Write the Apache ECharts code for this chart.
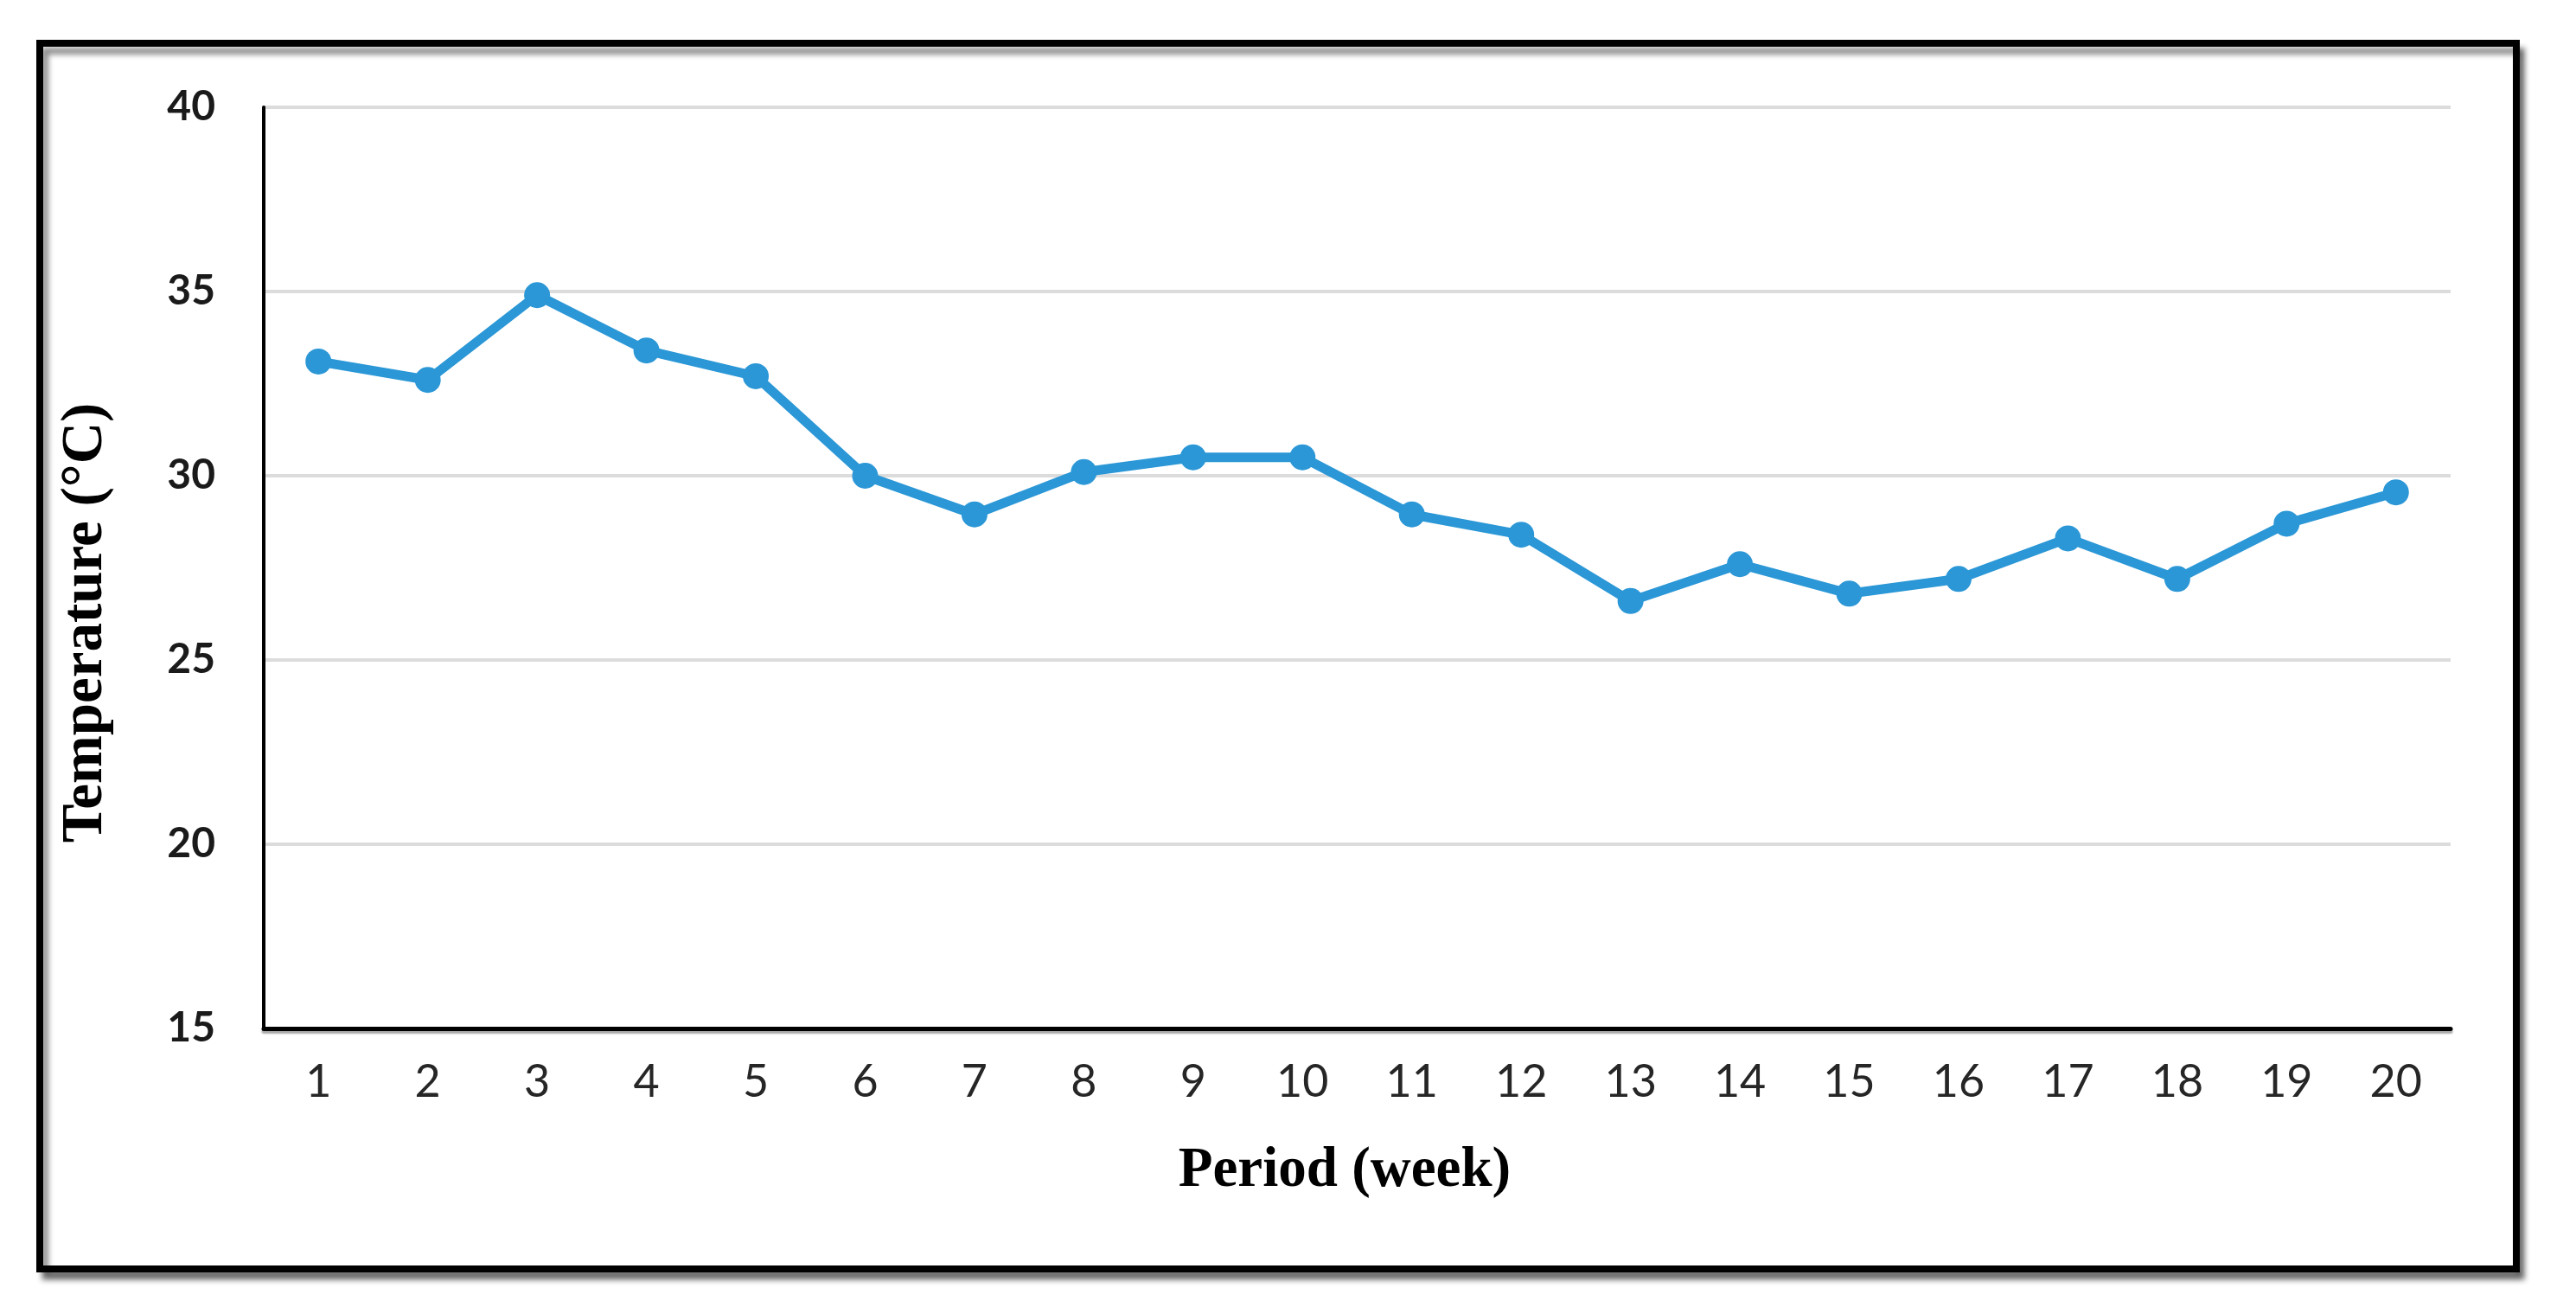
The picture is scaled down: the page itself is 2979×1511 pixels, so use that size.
<!DOCTYPE html>
<html>
<head>
<meta charset="utf-8">
<script src="https://cdn.jsdelivr.net/npm/echarts@6/dist/echarts.min.js"></script>
<style>
  html, body { margin: 0; padding: 0; background: #ffffff; }
  #chart { width: 2979px; height: 1511px; }
</style>
</head>
<body>
<div id="chart"></div>
<script>
// ---- data ----
const weeks = ['1','2','3','4','5','6','7','8','9','10','11','12','13','14','15','16','17','18','19','20'];
const temperature = [33.1, 32.6, 34.9, 33.4, 32.7, 30.0, 28.95, 30.1, 30.5, 30.5, 28.95, 28.4, 26.6, 27.6, 26.8, 27.2, 28.3, 27.2, 28.7, 29.55];
const yTicks = { min: 15, max: 40, step: 5 };
const xTitle = 'Period (week)';
const yTitle = 'Temperature (\u00B0C)';

const chart = echarts.init(document.getElementById('chart'), null, { renderer: 'canvas' });

const option = {
  backgroundColor: '#ffffff',
  animation: false,
  graphic: [
    {
      type: 'rect',
      z: -10,
      shape: { x: 46, y: 50, width: 2864, height: 1417 },
      style: {
        fill: '#ffffff',
        stroke: '#000000',
        lineWidth: 8,
        shadowColor: 'rgba(0,0,0,0.45)',
        shadowBlur: 6,
        shadowOffsetX: 6,
        shadowOffsetY: 9
      }
    },
    {
      type: 'text',
      x: 100,
      y: 720,
      rotation: Math.PI / 2,
      style: {
        text: yTitle,
        font: 'bold 67px "Liberation Serif", "Times New Roman", serif',
        fill: '#000000',
        textAlign: 'center',
        textVerticalAlign: 'middle'
      }
    },
    {
      type: 'text',
      x: 1555,
      y: 1354,
      style: {
        text: xTitle,
        font: 'bold 65px "Liberation Serif", "Times New Roman", serif',
        fill: '#000000',
        textAlign: 'center',
        textVerticalAlign: 'middle'
      }
    }
  ],
  grid: {
    left: 305,
    right: 2979 - 2834,
    top: 124,
    bottom: 1511 - 1189,
    containLabel: false
  },
  xAxis: {
    type: 'category',
    data: weeks,
    boundaryGap: true,
    axisLine: {
      show: true,
      onZero: false,
      lineStyle: { color: '#000000', width: 5, shadowColor: 'rgba(0,0,0,0.35)', shadowOffsetY: 3, shadowBlur: 2 }
    },
    axisTick: { show: false },
    axisLabel: {
      margin: 36,
      fontFamily: 'Lato, "Open Sans", sans-serif',
      fontSize: 52,
      color: '#262626'
    },
    splitLine: { show: false }
  },
  yAxis: {
    type: 'value',
    min: yTicks.min,
    max: yTicks.max,
    interval: yTicks.step,
    axisLine: { show: true, lineStyle: { color: '#000000', width: 4 } },
    axisTick: { show: false },
    axisLabel: {
      margin: 56,
      fontFamily: 'Lato, "Open Sans", sans-serif',
      fontSize: 48,
      fontWeight: 'bold',
      color: '#1a1a1a'
    },
    splitLine: { show: true, lineStyle: { color: '#DCDCDC', width: 4 } }
  },
  series: [
    {
      type: 'line',
      data: temperature,
      symbol: 'circle',
      symbolSize: 30,
      lineStyle: { color: '#2B97D6', width: 11 },
      itemStyle: { color: '#2B97D6' },
      z: 5
    }
  ]
};

chart.setOption(option);
</script>
</body>
</html>
